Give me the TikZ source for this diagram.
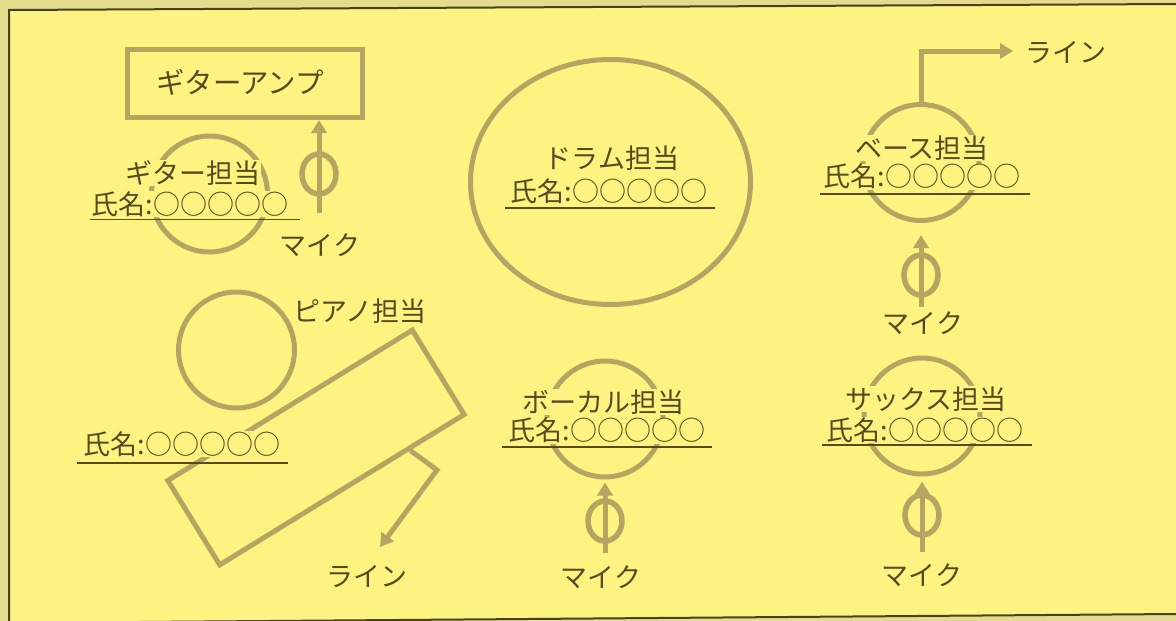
\documentclass[tikz,border=0pt]{standalone}
\usepackage{fontspec}
\newfontfamily\jp{Noto Sans CJK JP}
\usetikzlibrary{arrows.meta,shapes.geometric,calc}
\definecolor{bg}{RGB}{253,243,128}
\definecolor{outerbg}{RGB}{228,220,140}
\definecolor{shape}{RGB}{179,166,98}
\definecolor{ink}{RGB}{84,76,32}
\definecolor{framec}{RGB}{72,64,32}
\begin{document}
\begin{tikzpicture}[x=1pt,y=-1pt,
  person/.style={circle,draw=shape,line width=5pt,minimum size=116pt,inner sep=0pt},
  mic/.style={ellipse,draw=shape,line width=5.5pt,minimum width=34pt,minimum height=40pt,inner sep=0pt},
  lbl/.style={font=\jp\fontsize{27}{30}\selectfont,text=ink,inner sep=0.5pt,fill=bg},
  plainlbl/.style={font=\jp\fontsize{27}{30}\selectfont,text=ink,inner sep=0pt},
  conn/.style={draw=shape,line width=5pt},
  arr/.style={conn,-{Triangle[width=15pt,length=13pt]}},
  uline/.style={draw=ink,line width=1.2pt},
]
\useasboundingbox (0,0) rectangle (1176,621);
% background and frame
\fill[outerbg] (0,0) rectangle (1176,621);
\fill[bg] (9,10) -- (1176,4) -- (1176,614) -- (9,623) -- cycle;
\draw[framec,line width=2pt] (1176,4) -- (9,10) -- (9,625);
\draw[framec,line width=2pt] (9,623) -- (1176,614);

% guitar
\node[draw=shape,line width=5pt,minimum width=235pt,minimum height=68pt,inner sep=0pt] (amp) at (245,83.5) {};
\node[plainlbl,font=\jp\fontsize{28.5}{30}\selectfont] (ampl) at (240,82) {ギターアンプ};
\node[person] (gp) at (209.5,194) {};
\node[mic] (gmic) at (319,174) {};
\coordinate (gmicb) at (319,213);
\draw[arr] (gmicb) -- (gmicb |- amp.south);
\node[lbl] (gpt) at (193,173) {ギター担当};
\node[lbl] (gpn) at (190,204) {氏名:○○○○○};
\draw[uline] (90,219.5) -- (300,219.5);
\node[plainlbl] (gmicl) at (320,245) {マイク};

% drums
\node[ellipse,draw=shape,line width=5pt,minimum width=280pt,minimum height=245pt,inner sep=0pt] (drum) at (610.5,182) {};
\node[lbl] (dt) at (612,158) {ドラム担当};
\node[lbl] (dn) at (609,191) {氏名:○○○○○};
\draw[uline] (505,208) -- (715,208);

% bass
\node[person] (bp) at (921,162.5) {};
\node[plainlbl,anchor=west] (bll) at (1025,52) {ライン};
\coordinate (bline) at (1013,51);
\draw[arr] (bp.north) |- (bline);
\node[lbl] (bt) at (922,148) {ベース担当};
\node[lbl] (bn) at (922,176.5) {氏名:○○○○○};
\draw[uline] (820,194) -- (1030,194);
\node[mic] (bmic) at (921,275) {};
\coordinate (bmicb) at (921,307);
\draw[arr,shorten >=12pt] (bmicb) -- (bp.south);
\node[plainlbl] (bmicl) at (923,323) {マイク};

% vocal
\node[person] (vp) at (605,419) {};
\node[lbl] (vt) at (603,402) {ボーカル担当};
\node[lbl] (vn) at (607,430.5) {氏名:○○○○○};
\draw[uline] (502,447) -- (712,447);
\node[mic] (vmic) at (605,521) {};
\coordinate (vmicb) at (605,553);
\draw[arr,shorten >=3pt] (vmicb) -- (vp.south);
\node[plainlbl] (vmicl) at (601,577) {マイク};

% sax
\node[person] (sp) at (922,416) {};
\node[lbl] (st) at (926,399) {サックス担当};
\node[lbl] (sn) at (925,430) {氏名:○○○○○};
\draw[uline] (822,445) -- (1032,445);
\node[mic] (smic) at (922,515) {};
\coordinate (smicb) at (922,552);
\draw[arr,shorten >=5pt] (smicb) -- (sp.south);
\node[plainlbl] (smicl) at (922,575) {マイク};

% piano
\node[person] (pp) at (236.5,350) {};
\node[lbl] (pt) at (360,311) {ピアノ担当};
\node[draw=shape,line width=5pt,minimum width=287pt,minimum height=99pt,inner sep=0pt,rotate=31.6] (piano) at (316,447.5) {};
\coordinate (pst) at ($(piano.south east)!0.23!(piano.south west)$);
\coordinate (pbend) at (437,470);
\coordinate (ptip) at (380,547);
\draw[arr] (pst) -- (pbend) -- (ptip);
\node[plainlbl] (pll) at (367,576) {ライン};
\node[lbl] (pn) at (182,444) {氏名:○○○○○};
\draw[uline] (77,463) -- (288,463);
\end{tikzpicture}
\end{document}
